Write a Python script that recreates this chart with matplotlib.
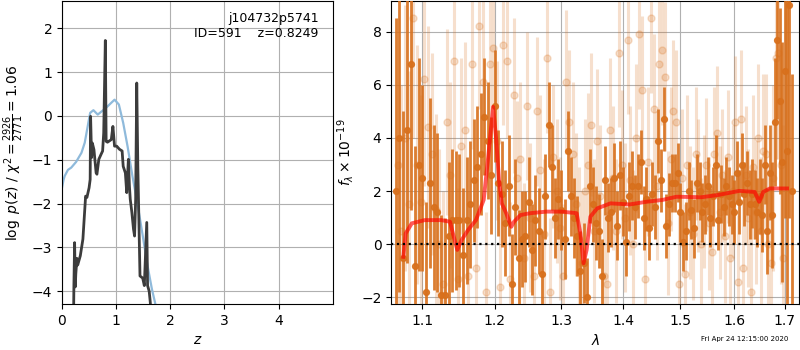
import numpy as np
import matplotlib
matplotlib.use('Agg')
import matplotlib.pyplot as plt
from matplotlib.ticker import FixedLocator, FixedFormatter, NullLocator

# ---- p(z) panel data ----
z_prior = [0.0, 0.03, 0.05, 0.11, 0.17, 0.26, 0.36, 0.42, 0.48, 0.52, 0.58, 0.66,
           0.81, 0.97, 1.05, 1.13, 1.21, 1.30, 1.40, 1.49, 1.58, 1.66, 1.72, 1.80]
logp_prior = [-1.64, -1.45, -1.37, -1.23, -1.18, -1.05, -0.84, -0.61, -0.20, 0.07, 0.13, 0.03,
              0.18, 0.37, 0.26, -0.16, -0.69, -1.37, -2.05, -2.73, -3.42, -3.95, -4.27, -4.8]

z_fit = [0.215, 0.22, 0.233, 0.245, 0.255, 0.276, 0.29, 0.338, 0.386, 0.417, 0.436, 0.46,
         0.50, 0.52, 0.528, 0.546, 0.56, 0.59, 0.63, 0.645, 0.68, 0.72, 0.75, 0.77,
         0.80, 0.815, 0.84, 0.91, 0.94, 0.97, 1.01, 1.06, 1.11, 1.13, 1.17, 1.195,
         1.226, 1.245, 1.26, 1.29, 1.32, 1.34, 1.36, 1.38, 1.40, 1.44, 1.49, 1.52,
         1.565, 1.58, 1.61, 1.63, 1.65]
logp_fit = [-4.4, -3.85, -2.89, -3.9, -3.6, -3.25, -3.4, -3.19, -2.81, -2.2, -1.83, -1.86,
            -1.64, -1.45, -0.01, -0.95, -0.62, -0.77, -1.3, -1.33, -0.99, -0.88, -0.80, -0.39,
            1.72, -0.58, -0.60, -0.54, -0.24, -0.69, -0.69, -0.76, -0.80, -1.15, -1.30, -1.75,
            -0.99, -1.6, -1.9, -2.2, -2.58, -2.74, -1.9, 0.75, -1.15, -3.65, -3.70, -3.87,
            -2.43, -3.87, -4.0, -4.25, -4.6]

# ---- spectrum panel data ----
wave_a = [1.065, 1.070, 1.075, 1.080, 1.085, 1.090, 1.095, 1.100, 1.105, 1.110,
          1.115, 1.120, 1.125, 1.130, 1.135, 1.140, 1.145, 1.150, 1.155, 1.160,
          1.165, 1.170, 1.175, 1.180, 1.185, 1.190, 1.195, 1.200, 1.205, 1.210,
          1.215, 1.220, 1.225, 1.230, 1.235, 1.240, 1.245, 1.250, 1.255, 1.260,
          1.265, 1.270, 1.275, 1.280, 1.285, 1.290, 1.295, 1.300, 1.305, 1.310,
          1.315, 1.320, 1.325, 1.330, 1.335, 1.340, 1.345, 1.350, 1.355, 1.360,
          1.365, 1.370, 1.375, 1.380, 1.385, 1.390, 1.395, 1.400, 1.405, 1.410,
          1.415, 1.420, 1.425, 1.430, 1.435, 1.440, 1.445, 1.450, 1.455, 1.460,
          1.465, 1.470, 1.475, 1.480, 1.485, 1.490, 1.495, 1.500, 1.505, 1.510,
          1.515, 1.520, 1.525, 1.530, 1.535, 1.540, 1.545, 1.550, 1.555, 1.560,
          1.565, 1.570, 1.575, 1.580, 1.585, 1.590, 1.595, 1.600, 1.605, 1.610,
          1.615, 1.620, 1.625, 1.630, 1.635, 1.640, 1.645, 1.650, 1.655, 1.660,
          1.665, 1.670, 1.675, 1.680, 1.685, 1.690, 1.695, 1.700, 1.705, 1.710,
          1.715]
flux_a = [2.0, 4.0, -0.5, 4.3, 6.8, -0.8, 3.0, 2.5, -1.8, 2.3,
          1.4, 1.2, -1.9, -1.9, 0.3, 0.9, 0.9, 0.9, -0.4, 0.9,
          1.5, 2.4, 2.9, 3.4, 4.8, 3.9, 2.6, 5.2, 2.3, 1.9,
          0.8, 2.2, -1.5, 1.4, -0.5, 0.2, 0.3, 1.6, -0.2, 0.9,
          0.5, -1.1, 1.8, 4.5, 2.9, 1.0, 1.7, 1.3, 0.2, 3.5,
          1.8, 1.0, 0.3, -1.0, -0.7, -2.0, 2.2, 1.5, 0.8, 0.5,
          -1.2, 2.4, 1.0, 1.2, 2.5, 0.7, 2.6, 1.6, 0.1, 1.8,
          2.2, 1.4, 2.2, 3.1, 1.0, 1.7, 0.6, 1.9, 1.4, 3.9,
          2.4, 4.7, 0.7, 1.5, 2.3, 2.3, 2.7, 1.2, 0.1, 0.5,
          2.0, 1.3, 0.6, 2.3, 2.0, 1.2, 1.5, 2.2, 1.0, 1.8,
          3.0, 0.9, 1.9, 1.4, 2.2, 1.8, 1.5, 1.2, 2.7, 1.6,
          3.0, 1.9, 2.3, 1.5, 1.9, 1.5, 1.2, 1.8, 1.1, 3.0,
          0.5, 2.7, 1.1, 4.6, 7.7, 5.4, 3.1, 6.5, 3.5, 9.0,
          2.0]
err_a = [6.5, 5.8, 5.5, 5.0, 5.5, 4.5, 4.0, 3.5, 3.4, 3.2,
         3.1, 3.0, 3.0, 2.9, 2.8, 2.7, 2.6, 2.5, 2.5, 2.4,
         2.4, 2.3, 2.3, 2.3, 2.2, 2.2, 2.2, 2.1, 2.0, 2.0,
         2.0, 1.9, 1.9, 1.8, 1.8, 1.8, 1.7, 1.7, 1.7, 1.7,
         1.6, 1.6, 1.6, 1.6, 1.6, 1.5, 1.5, 1.5, 1.5, 1.5,
         1.5, 1.5, 1.5, 1.5, 1.5, 1.5, 1.4, 1.4, 1.4, 1.4,
         1.4, 1.3, 1.3, 1.3, 1.3, 1.3, 1.3, 1.3, 1.3, 1.3,
         1.3, 1.2, 1.2, 1.2, 1.2, 1.2, 1.2, 1.2, 1.2, 1.2,
         1.2, 1.2, 1.2, 1.2, 1.1, 1.1, 1.1, 1.1, 1.1, 1.1,
         1.1, 1.1, 1.1, 1.1, 1.1, 1.1, 1.1, 1.1, 1.1, 1.1,
         1.1, 1.1, 1.1, 1.1, 1.1, 1.1, 1.1, 1.2, 1.2, 1.2,
         1.2, 1.2, 1.2, 1.3, 1.3, 1.3, 1.3, 1.4, 1.4, 1.5,
         1.6, 1.8, 2.0, 2.4, 3.0, 3.5, 4.5, 5.5, 7.0, 8.0,
         4.4]

wave_b = [1.0675, 1.0725, 1.0775, 1.0825, 1.0875, 1.0925, 1.0975, 1.1025, 1.1075, 1.1125,
          1.1175, 1.1225, 1.1275, 1.1325, 1.1375, 1.1425, 1.1475, 1.1525, 1.1575, 1.1625,
          1.1675, 1.1725, 1.1775, 1.1825, 1.1875, 1.1925, 1.1975, 1.2025, 1.2075, 1.2125,
          1.2175, 1.2225, 1.2275, 1.2325, 1.2375, 1.2425, 1.2475, 1.2525, 1.2575, 1.2625,
          1.2675, 1.2725, 1.2775, 1.2825, 1.2875, 1.2925, 1.2975, 1.3025, 1.3075, 1.3125,
          1.3175, 1.3225, 1.3275, 1.3325, 1.3375, 1.3425, 1.3475, 1.3525, 1.3575, 1.3625,
          1.3675, 1.3725, 1.3775, 1.3825, 1.3875, 1.3925, 1.3975, 1.4025, 1.4075, 1.4125,
          1.4175, 1.4225, 1.4275, 1.4325, 1.4375, 1.4425, 1.4475, 1.4525, 1.4575, 1.4625,
          1.4675, 1.4725, 1.4775, 1.4825, 1.4875, 1.4925, 1.4975, 1.5025, 1.5075, 1.5125,
          1.5175, 1.5225, 1.5275, 1.5325, 1.5375, 1.5425, 1.5475, 1.5525, 1.5575, 1.5625,
          1.5675, 1.5725, 1.5775, 1.5825, 1.5875, 1.5925, 1.5975, 1.6025, 1.6075, 1.6125,
          1.6175, 1.6225, 1.6275, 1.6325, 1.6375, 1.6425, 1.6475, 1.6525, 1.6575, 1.6625,
          1.6675, 1.6725, 1.6775, 1.6825, 1.6875, 1.6925, 1.6975]
flux_b = [3.0, 0.5, 4.0, 1.5, 8.5, 3.0, 1.6, 6.2, 4.4, 3.4,
          1.3, 0.0, -1.5, 4.6, 2.6, 6.9, -1.3, 3.7, 4.3, -1.2,
          6.8, -0.9, 8.2, 6.1, -1.8, 6.8, 7.4, 3.9, -1.6, 7.5,
          6.9, -1.3, 5.6, 2.5, 3.2, -0.5, 5.2, 1.0, -1.2, 5.0,
          2.8, 0.4, 7.0, -1.8, 3.3, 2.0, 0.6, -1.2, 6.1, 4.6,
          3.4, 1.5, 0.2, -0.7, 2.0, 3.0, 4.5, 0.5, 3.9, 1.8,
          -1.2, -1.5, 4.3, 2.5, 0.5, 7.2, 3.0, 1.0, 7.7, 2.4,
          0.0, 4.0, 7.9, 5.8, -1.3, 3.1, 8.5, 5.1, 2.2, 6.8,
          7.3, 6.3, 0.8, 3.2, 5.0, 4.6, -1.5, 2.5, -1.1, 3.0,
          1.2, 0.4, 3.4, 2.2, 0.0, 1.6, 3.0, 0.8, -0.3, 3.4,
          4.2, 1.2, 2.6, 0.3, 3.3, -0.5, 2.0, 4.6, -1.4, 4.7,
          -0.9, 2.6, 1.0, -1.8, 2.9, 1.2, 4.0, 0.5, 3.5, 3.4,
          0.0, -0.7, 2.5, 7.0, 7.2, 3.0, -0.5]
err_b = [5.5, 5.5, 5.0, 5.0, 4.5, 4.5, 4.0, 4.0, 3.8, 3.8,
         3.6, 3.6, 3.5, 3.5, 3.5, 3.4, 3.4, 3.3, 3.3, 3.2,
         3.2, 3.2, 3.1, 3.1, 3.0, 3.0, 3.0, 3.0, 3.0, 3.0,
         2.9, 2.9, 2.9, 2.9, 2.9, 2.8, 2.8, 2.8, 2.8, 2.8,
         2.8, 2.8, 2.8, 2.8, 2.7, 2.7, 2.7, 2.7, 2.7, 2.7,
         2.7, 2.7, 2.7, 2.7, 2.7, 2.7, 2.7, 2.7, 2.7, 2.7,
         2.7, 2.7, 2.7, 2.7, 2.7, 2.8, 2.8, 2.8, 2.8, 2.8,
         2.8, 2.8, 2.8, 2.8, 2.8, 2.8, 2.8, 2.8, 2.8, 2.8,
         2.8, 2.8, 2.7, 2.7, 2.7, 2.7, 2.6, 2.6, 2.6, 2.6,
         2.5, 2.5, 2.5, 2.5, 2.5, 2.5, 2.5, 2.5, 2.5, 2.5,
         2.5, 2.5, 2.5, 2.5, 2.5, 2.5, 2.5, 2.5, 2.5, 2.6,
         2.6, 2.6, 2.6, 2.7, 2.7, 2.7, 2.8, 2.8, 2.9, 3.0,
         3.0, 3.2, 3.5, 3.8, 4.0, 4.5, 5.0]

wave_model = [1.075, 1.078, 1.086, 1.103, 1.125, 1.137, 1.141, 1.147, 1.153, 1.162,
              1.173, 1.184, 1.190, 1.1975, 1.202, 1.206, 1.210, 1.2165, 1.224, 1.228,
              1.2375, 1.252, 1.277, 1.300, 1.324, 1.330, 1.335, 1.340, 1.346, 1.357,
              1.379, 1.411, 1.440, 1.468, 1.493, 1.538, 1.568, 1.610, 1.640, 1.649,
              1.657, 1.670, 1.705]
flux_model = [-0.47, 0.41, 0.79, 0.91, 0.91, 0.85, 0.41, -0.21, 0.16, 0.54,
              0.91, 1.67, 3.17, 5.17, 3.92, 2.42, 1.54, 1.17, 0.66, 0.85,
              1.10, 1.17, 1.23, 1.23, 1.17, 0.41, -0.71, -0.21, 1.04, 1.35,
              1.54, 1.50, 1.60, 1.67, 1.79, 1.77, 1.85, 2.01, 1.97, 1.60,
              1.97, 2.10, 2.10]

wave_ticks = [1.1, 1.2, 1.3, 1.4, 1.5, 1.6, 1.7]

orange = '#d8701c'

fig = plt.figure(figsize=(8, 3.5), dpi=100)
ax1 = fig.add_axes([0.0775, 0.1314, 0.3385, 0.8657])
ax2 = fig.add_axes([0.489, 0.1314, 0.510, 0.8657])

# left: redshift probability
ax1.plot(z_prior, logp_prior, color='#8fbadb', lw=1.6)
ax1.plot(z_fit, logp_fit, color='#3c3c3c', lw=2)
ax1.set_xlim(0, 5.0)
ax1.set_ylim(-4.29, 2.62)
ax1.set_xticks([0, 1, 2, 3, 4])
ax1.set_yticks([-4, -3, -2, -1, 0, 1, 2])
ax1.grid(True)
ax1.set_axisbelow(True)
ax1.set_xlabel('$z$')
ax1.set_ylabel(r'$\log\ p(z)$ / $\chi^2=\frac{2926}{2771}=1.06$')
ax1.text(0.948, 0.965, 'j104732p5741\nID=591    z=0.8249', transform=ax1.transAxes,
         ha='right', va='top', fontsize=9)

# right: spectrum
ax2.errorbar(wave_b, flux_b, yerr=err_b, color=orange, alpha=0.22, marker='o', ms=5,
             linestyle='None', elinewidth=2.2, capsize=0, zorder=2)
ax2.errorbar(wave_a, flux_a, yerr=err_a, color=orange, alpha=0.9, marker='o', ms=4.2,
             linestyle='None', elinewidth=2.0, capsize=0, zorder=3)
ax2.plot(wave_model, flux_model, color='red', alpha=0.65, lw=2.8, zorder=4)
ax2.axhline(0, color='k', linestyle=':', lw=1.6, zorder=5)

ax2.set_xscale('log')
ax2.set_xlim(1.0594, 1.7302)
ax2.set_ylim(-2.245, 9.15)
ax2.xaxis.set_major_locator(FixedLocator(wave_ticks))
ax2.xaxis.set_major_formatter(FixedFormatter(['%.1f' % w for w in wave_ticks]))
ax2.xaxis.set_minor_locator(NullLocator())
ax2.set_yticks([-2, 0, 2, 4, 6, 8])
ax2.grid(True)
ax2.set_axisbelow(True)
ax2.set_xlabel(r'$\lambda$')
ax2.set_ylabel(r'$f_\lambda\times10^{-19}$')

fig.text(0.985, 0.031, 'Fri Apr 24 12:15:00 2020', ha='right', va='center', fontsize=5)

fig.savefig('out.png', dpi=100)
